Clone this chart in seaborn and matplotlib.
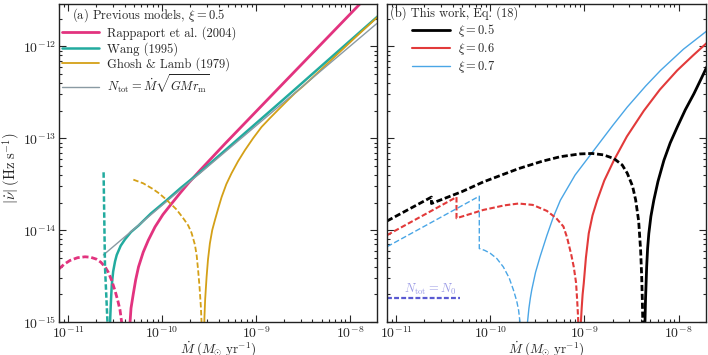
import numpy as np
import pandas as pd
import seaborn as sns
import matplotlib.pyplot as plt
from matplotlib.ticker import LogLocator, NullFormatter

# values, stored as log10(Mdot [Msun/yr]) and log10(|nudot| [Hz/s])
# (a) previous models, xi = 0.5
rap_pos_x = [-10.345, -10.34, -10.33, -10.305, -10.28, -10.25, -10.20, -10.146, -10.074, -9.99,
             -9.897, -9.81, -9.72, -9.596, -9.33, -8.745, -7.80]
rap_pos_y = [-15.2, -15.0, -14.85, -14.69, -14.54, -14.40, -14.24, -14.11, -13.964, -13.83,
             -13.71, -13.60, -13.49, -13.35, -13.06, -12.44, -11.44]
rap_neg_x = [-11.096, -11.04, -10.98, -10.9, -10.82, -10.76, -10.70, -10.65, -10.606, -10.571,
             -10.535, -10.50, -10.47, -10.447, -10.43, -10.42]
rap_neg_y = [-14.42, -14.37, -14.33, -14.30, -14.29, -14.295, -14.315, -14.35, -14.40, -14.46,
             -14.55, -14.66, -14.77, -14.87, -15.0, -15.2]

wang_pos_x = [-10.56, -10.553, -10.545, -10.535, -10.52, -10.50, -10.482, -10.44, -10.394, -10.33,
              -10.25, -10.12, -9.968, -9.80, -9.596, -8.71, -7.70]
wang_pos_y = [-15.2, -15.0, -14.8, -14.60, -14.45, -14.34, -14.27, -14.17, -14.10, -14.02,
              -13.95, -13.82, -13.69, -13.54, -13.37, -12.58, -11.67]
wang_neg_x = [-10.622, -10.607, -10.572]
wang_neg_y = [-13.37, -14.40, -15.2]

gl_pos_x = [-9.553, -9.548, -9.54, -9.525, -9.51, -9.49, -9.465, -9.436, -9.40, -9.365, -9.315,
            -9.259, -9.19, -9.117, -9.03, -8.94, -8.85, -8.763, -8.675, -8.585, -8.50, -8.43,
            -8.2, -7.95, -7.70]
gl_pos_y = [-15.2, -14.95, -14.75, -14.51, -14.32, -14.145, -14.00, -13.89, -13.76, -13.64, -13.50,
            -13.38, -13.25, -13.13, -13.00, -12.877, -12.78, -12.69, -12.60, -12.51, -12.435, -12.37,
            -12.15, -11.91, -11.675]
gl_neg_x = [-10.305, -10.2, -10.1, -10.03, -9.968, -9.90, -9.85, -9.80, -9.76, -9.72, -9.685,
            -9.649, -9.63, -9.614, -9.60, -9.585, -9.577, -9.572]
gl_neg_y = [-13.45, -13.49, -13.55, -13.60, -13.655, -13.72, -13.77, -13.835, -13.89, -13.95, -14.03,
            -14.16, -14.28, -14.45, -14.62, -14.85, -15.05, -15.2]

ntot_x = [-10.624, -7.70]
ntot_y = [-14.27, -11.74]

# (b) this work, Eq. (18)
x05_pos_x = [-8.362, -8.358, -8.352, -8.345, -8.34, -8.33, -8.317, -8.295, -8.264, -8.22, -8.157,
             -8.09, -8.015, -7.93, -7.838, -7.77, -7.70]
x05_pos_y = [-15.2, -15.0, -14.75, -14.55, -14.40, -14.20, -14.036, -13.85, -13.674, -13.47, -13.24,
             -13.05, -12.877, -12.69, -12.514, -12.37, -12.22]
x05_neg_x = [-11.096, -10.625, -10.625, -10.3, -10.075, -9.7, -9.45, -9.256, -9.05, -8.92, -8.80,
             -8.688, -8.60, -8.546, -8.49, -8.457, -8.425, -8.404, -8.393, -8.386, -8.381, -8.378]
x05_neg_y = [-13.90, -13.64, -13.71, -13.58, -13.475, -13.33, -13.25, -13.20, -13.17, -13.165, -13.18,
             -13.22, -13.29, -13.38, -13.52, -13.67, -13.90, -14.22, -14.50, -14.76, -15.0, -15.2]

x06_pos_x = [-9.043, -9.038, -9.03, -9.02, -9.008, -8.985, -8.955, -8.915, -8.865, -8.79, -8.688,
             -8.55, -8.37, -8.20, -8.015, -7.85, -7.70]
x06_pos_y = [-15.2, -15.0, -14.85, -14.70, -14.58, -14.30, -14.036, -13.84, -13.674, -13.46, -13.24,
             -12.98, -12.70, -12.47, -12.26, -12.10, -11.96]
x06_neg_x = [-11.096, -10.359, -10.359, -10.075, -9.85, -9.70, -9.55, -9.40, -9.30, -9.224, -9.185,
             -9.14, -9.114, -9.09, -9.078, -9.068, -9.062]
x06_neg_y = [-14.054, -13.64, -13.87, -13.78, -13.73, -13.71, -13.725, -13.79, -13.87, -13.96, -14.08,
             -14.27, -14.40, -14.57, -14.76, -14.95, -15.2]

x07_pos_x = [-9.614, -9.605, -9.59, -9.575, -9.56, -9.52, -9.472, -9.40, -9.33, -9.256, -9.10,
             -8.90, -8.70, -8.546, -8.35, -8.192, -7.95, -7.70]
x07_pos_y = [-15.2, -15.0, -14.85, -14.74, -14.65, -14.46, -14.29, -14.06, -13.855, -13.674, -13.40,
             -13.13, -12.86, -12.66, -12.43, -12.26, -12.03, -11.83]
x07_neg_x = [-11.096, -10.117, -10.117, -10.06, -10.003, -9.93, -9.862, -9.80, -9.755, -9.72, -9.70,
             -9.685, -9.675]
x07_neg_y = [-14.18, -13.63, -14.20, -14.22, -14.25, -14.31, -14.40, -14.52, -14.65, -14.77, -14.87,
             -15.0, -15.2]

n0_x = [-11.096, -10.323]
n0_y = [-14.736, -14.736]

sns.set_theme(style="ticks")
plt.rcParams["font.family"] = ["cmr10", "DejaVu Serif"]
plt.rcParams["mathtext.fontset"] = "cm"
plt.rcParams["axes.formatter.use_mathtext"] = True
plt.rcParams["axes.unicode_minus"] = False


def curve(ax, lx, ly, color, lw, ls="-", label=None):
    df = pd.DataFrame({"mdot": np.power(10.0, lx), "nudot": np.power(10.0, ly)})
    sns.lineplot(data=df, x="mdot", y="nudot", sort=False, estimator=None,
                 color=color, lw=lw, linestyle=ls, label=label, ax=ax)


fig = plt.figure(figsize=(7.08, 3.55), dpi=100)
ax1 = fig.add_axes([59 / 708, 1 - 322 / 355, 318 / 708, 318 / 355])
ax2 = fig.add_axes([387 / 708, 1 - 322 / 355, 319 / 708, 318 / 355])

pink, teal, gold, grey = "#e2337f", "#22ab9f", "#d4a017", "#8a9aa3"
dash = (0, (2.2, 1.0))

for ax in (ax1, ax2):
    ax.set_xscale("log")
    ax.set_yscale("log")

curve(ax1, rap_pos_x, rap_pos_y, pink, 2.0, label="Rappaport et al. (2004)")
curve(ax1, wang_pos_x, wang_pos_y, teal, 1.8, label="Wang (1995)")
curve(ax1, gl_pos_x, gl_pos_y, gold, 1.3, label="Ghosh & Lamb (1979)")
curve(ax1, ntot_x, ntot_y, grey, 1.0, label=r"$N_{\rm tot} = \dot{M}\sqrt{GMr_{\rm m}}$")
curve(ax1, rap_neg_x, rap_neg_y, pink, 2.0, dash)
curve(ax1, wang_neg_x, wang_neg_y, teal, 1.8, dash)
curve(ax1, gl_neg_x, gl_neg_y, gold, 1.3, (0, (3.0, 1.4)))

black, red, blue = "#000000", "#e23a3a", "#4aa6e6"
curve(ax2, x05_pos_x, x05_pos_y, black, 2.0, label=r"$\xi = 0.5$")
curve(ax2, x06_pos_x, x06_pos_y, red, 1.5, label=r"$\xi = 0.6$")
curve(ax2, x07_pos_x, x07_pos_y, blue, 1.0, label=r"$\xi = 0.7$")
curve(ax2, x05_neg_x, x05_neg_y, black, 2.0, dash)
curve(ax2, x06_neg_x, x06_neg_y, red, 1.5, (0, (2.6, 1.2)))
curve(ax2, x07_neg_x, x07_neg_y, blue, 1.0, (0, (4.0, 1.8)))
curve(ax2, n0_x, n0_y, "#5a5ad2", 1.6, (0, (2.2, 1.0)))
ax2.text(10 ** -10.643, 10 ** -14.73, r"$N_{\rm tot} = N_0$", color="#9c9ce6",
         fontsize=9, ha="center", va="bottom")

for ax in (ax1, ax2):
    ax.set_xlim(8e-12, 1.95e-8)
    ax.set_ylim(1e-15, 2.9e-12)
    ax.xaxis.set_major_locator(LogLocator(base=10, numticks=10))
    ax.xaxis.set_minor_locator(LogLocator(base=10, subs=np.arange(2, 10), numticks=10))
    ax.xaxis.set_minor_formatter(NullFormatter())
    ax.yaxis.set_minor_formatter(NullFormatter())
    ax.tick_params(which="both", direction="in", top=True, right=True, labelsize=10,
                   width=0.8, pad=2)
    ax.tick_params(which="major", length=5)
    ax.tick_params(which="minor", length=2.5)
    for s in ax.spines.values():
        s.set_linewidth(1.0)
        s.set_color("#222222")
    ax.set_xlabel(r"$\dot{M}\;(M_{\odot}\;{\rm yr}^{-1})$", fontsize=9.5)
    ax.xaxis.set_label_coords(0.5, -0.053)
    ax.set_ylabel("")

ax2.tick_params(labelleft=False)
ax1.set_ylabel(r"$|\dot{\nu}|\;({\rm Hz\;s}^{-1})$", fontsize=10.5)
ax1.yaxis.set_label_coords(-0.115, 0.485)

leg_kw = dict(loc="upper left", frameon=False, fontsize=9, title_fontsize=9,
              handlelength=3.0, handletextpad=0.65, labelspacing=0.15,
              borderaxespad=0.1, borderpad=0.1)
ax1.legend(title=r"(a) Previous models, $\xi = 0.5$", **leg_kw)
ax2.legend(title="(b) This work, Eq. (18)", **leg_kw)

plt.savefig("out.png", dpi=100)
